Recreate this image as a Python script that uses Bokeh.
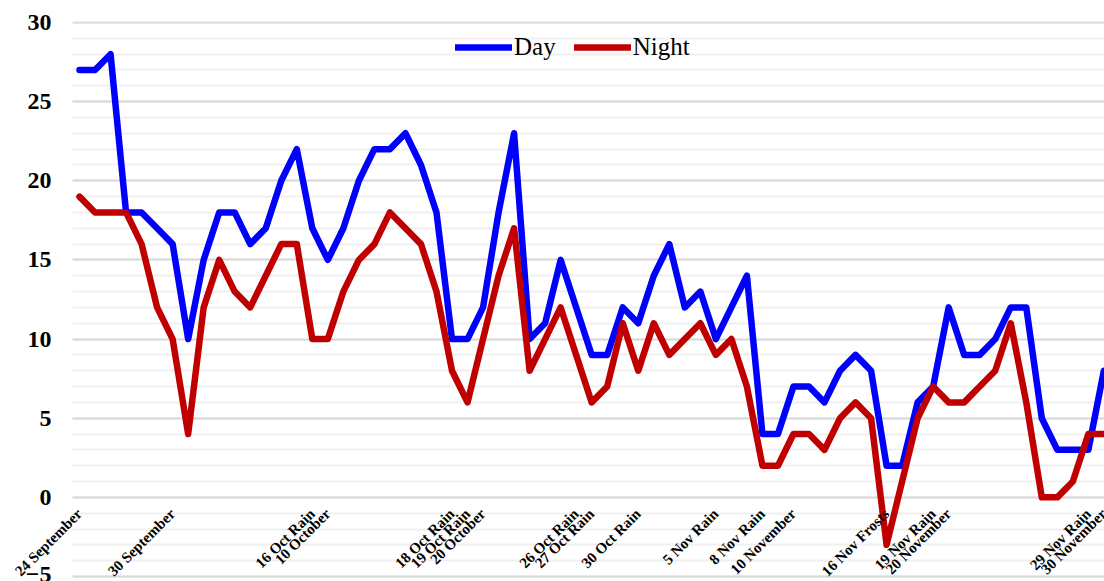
from math import pi
from bokeh.plotting import figure
from bokeh.models import Range1d, SingleIntervalTicker, ColumnDataSource, LabelSet, BoxAnnotation
from bokeh.embed import file_html
from bokeh.resources import INLINE

# day index 0 = 24 September
day_index = list(range(67))
day_temps = [27, 27, 28, 18, 18, 17, 16, 10, 15, 18,
             18, 16, 17, 20, 22, 17, 15, 17, 20, 22,
             22, 23, 21, 18, 10, 10, 12, 18, 23, 10,
             11, 15, 12, 9, 9, 12, 11, 14, 16, 12,
             13, 10, 12, 14, 4, 4, 7, 7, 6, 8,
             9, 8, 2, 2, 6, 7, 12, 9, 9, 10,
             12, 12, 5, 3, 3, 3, 8]
night_temps = [19, 18, 18, 18, 16, 12, 10, 4, 12, 15,
               13, 12, 14, 16, 16, 10, 10, 13, 15, 16,
               18, 17, 16, 13, 8, 6, 10, 14, 17, 8,
               10, 12, 9, 6, 7, 11, 8, 11, 9, 10,
               11, 9, 10, 7, 2, 2, 4, 4, 3, 5,
               6, 5, -3, 1, 5, 7, 6, 6, 7, 8,
               11, 6, 0, 0, 1, 4, 4]

tick_positions = [0, 6, 15, 16, 24, 25, 26, 32, 33, 36, 41, 44, 46, 52, 55, 56, 65, 66]
tick_labels = ["24 September", "30 September", "16 Oct Rain", "10 October",
               "18 Oct Rain", "19 Oct Rain", "20 October", "26 Oct Rain",
               "27 Oct Rain", "30 Oct Rain", "5 Nov Rain", "8 Nov Rain",
               "10 November", "16 Nov Frosts", "19 Nov Rain", "20 November",
               "29 Nov Rain", "30 November"]

SERIF = "Liberation Serif"
PLOT_LEFT = -0.45   # left edge of the plotting area, in day units
PLOT_TOP = 30.07    # top edge of the plotting area, in degrees

p = figure(width=1104, height=581, output_backend="svg", toolbar_location=None,
           x_range=Range1d(-5.09, 66.04), y_range=Range1d(-5.316, 31.39),
           x_axis_location=None,
           min_border_left=0, min_border_right=0, min_border_top=0, min_border_bottom=0)
p.outline_line_color = None
p.background_fill_color = "white"
p.border_fill_color = "white"
p.xgrid.visible = False

# y axis drawn at the left edge of the plotting area
ya = p.yaxis[0]
ya.fixed_location = PLOT_LEFT
ya.ticker = SingleIntervalTicker(interval=5, num_minor_ticks=5)
ya.axis_line_color = None
ya.major_tick_line_color = None
ya.minor_tick_line_color = None
ya.major_tick_out = 0
ya.minor_tick_out = 0
ya.major_label_standoff = 21
ya.major_label_text_font = SERIF
ya.major_label_text_font_style = "bold"
ya.major_label_text_font_size = "24px"
ya.major_label_text_color = "black"

p.ygrid.grid_line_color = "#d9d9d9"
p.ygrid.grid_line_width = 2
p.ygrid.minor_grid_line_color = "#f0f0f0"
p.ygrid.minor_grid_line_width = 2

# blank out the grid outside the plotting area (axis label zones)
p.add_layout(BoxAnnotation(left=-8, right=PLOT_LEFT, bottom=-8, top=40, fill_color="white",
                           fill_alpha=1, line_color=None, level="underlay"))
p.add_layout(BoxAnnotation(left=-8, right=80, bottom=PLOT_TOP, top=40, fill_color="white",
                           fill_alpha=1, line_color=None, level="underlay"))

p.line(day_index, day_temps, line_color="#0000ff", line_width=6.5,
       line_join="round", line_cap="round", legend_label="Day")
p.line(day_index, night_temps, line_color="#c00000", line_width=6.5,
       line_join="round", line_cap="round", legend_label="Night")

# category labels hung below the zero line, rotated 45 degrees
label_src = ColumnDataSource(dict(x=tick_positions, y=[0] * len(tick_positions), text=tick_labels))
labels = LabelSet(x="x", y="y", text="text", source=label_src,
                  angle=pi / 4, text_align="right", text_baseline="middle",
                  x_offset=0, y_offset=-14,
                  text_font=SERIF, text_font_style="bold", text_font_size="15px",
                  text_color="black")
p.add_layout(labels)

lg = p.legend[0]
lg.location = (455, 520)
lg.orientation = "horizontal"
lg.border_line_color = None
lg.background_fill_alpha = 0
lg.label_text_font = SERIF
lg.label_text_font_size = "25px"
lg.label_text_color = "black"
lg.glyph_width = 57
lg.glyph_height = 20
lg.label_standoff = 2
lg.spacing = 18
lg.padding = 0
lg.margin = 0

open("out.html", "w").write(file_html(p, INLINE))
